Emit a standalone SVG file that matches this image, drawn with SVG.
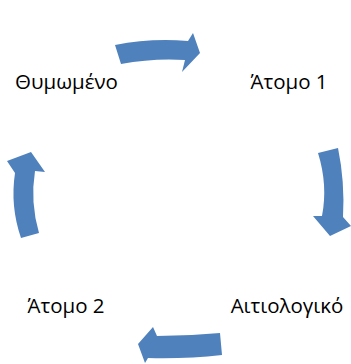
<svg xmlns="http://www.w3.org/2000/svg" width="351" height="364" viewBox="0 0 351 364">
<style>
.arrow{fill:#4F81BD;stroke:none}
.lbl{font-family:"Open Sans","Noto Sans","DejaVu Sans",sans-serif;font-size:20.5px;fill:#000;text-anchor:middle}
</style>
<rect width="351" height="364" fill="#fff"/>
<g id="connectors">
<path class="arrow" d="M115,45 Q150,38 188,41 L193,33 L200,53 L182,72 L185,60 Q153,58 121,64 Z"/>
<path class="arrow" d="M318,153 L338,148 Q345,182 343,217 L351,226 L330,236 L313,216 L322,216 Q328,185 318,153 Z"/>
<path class="arrow" d="M220,333 Q188,336 157,336 L153,327 L138,344 L145,363 L148,358 Q186,359 222,355 Z"/>
<path class="arrow" d="M21,238 L39,233 Q30,202 35,171 L45,172 L31,152 L7,161 L15,173 Q10,206 21,238 Z"/>
</g>
<g id="node-thymomeno"><text class="lbl" x="66.5" y="89">Θυμωμένο</text></g>
<g id="node-atomo1"><text class="lbl" x="289" y="89">Άτομο 1</text></g>
<g id="node-aitiologiko"><text class="lbl" x="287" y="313">Αιτιολογικό</text></g>
<g id="node-atomo2"><text class="lbl" x="66" y="313">Άτομο 2</text></g>
</svg>
